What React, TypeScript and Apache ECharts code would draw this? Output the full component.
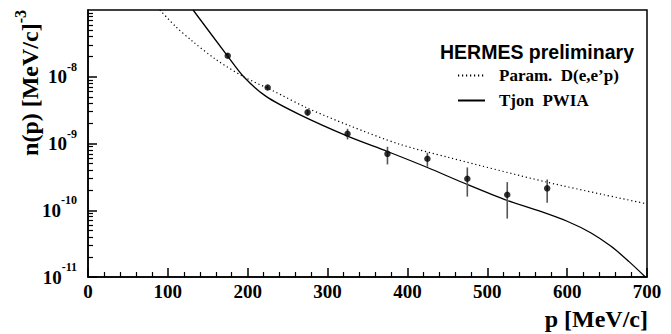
import React, { useEffect, useRef } from 'react';
import * as echarts from 'echarts';

// Measured points (HERMES preliminary)
const pointX = [175, 225, 275, 325, 375, 425, 475, 525, 575];
const pointY = [2.06e-8, 6.9e-9, 2.93e-9, 1.4e-9, 7.0e-10, 5.9e-10, 2.97e-10, 1.71e-10, 2.13e-10];
const errLow = [1.9e-8, 6.4e-9, 2.6e-9, 1.15e-9, 4.86e-10, 4.49e-10, 1.6e-10, 7.5e-11, 1.3e-10];
const errHigh = [2.25e-8, 7.4e-9, 3.2e-9, 1.66e-9, 8.93e-10, 7.26e-10, 4.38e-10, 2.64e-10, 2.9e-10];

// Param. D(e,e'p) curve
const paramX = [90, 110, 130, 160, 195, 230, 273, 327, 390, 452, 575, 698];
const paramY = [1.0e-7, 5.62e-8, 3.47e-8, 1.82e-8, 1.0e-8, 6.31e-9, 3.47e-9, 1.86e-9, 9.77e-10, 6.17e-10, 2.63e-10, 1.26e-10];

// Tjon PWIA curve
const tjonX = [131.6, 174.6, 195, 223, 265, 325, 375, 425, 475, 525, 565, 600, 630, 655, 677.5, 698];
const tjonY = [1.0e-7, 2.06e-8, 1.0e-8, 5.08e-9, 2.71e-9, 1.29e-9, 7.59e-10, 4.37e-10, 2.43e-10, 1.4e-10, 9.77e-11, 6.84e-11, 4.57e-11, 2.88e-11, 1.7e-11, 1.0e-11];

const yMajorTicks = [1e-11, 1e-10, 1e-9, 1e-8];
const yDecades = [-11, -10, -9, -8];
const yMinorMult = [2, 3, 4, 5, 6, 7, 8, 9];

const legendParam = 'Param.  D(e,e\u2019p)';
const legendTjon = 'Tjon  PWIA';

const SERIF = 'Liberation Serif';

export default function App() {
  const ref = useRef<HTMLDivElement>(null);
  useEffect(() => {
    const chart = echarts.init(ref.current!, null, { renderer: 'svg' });
    const yMinor: number[] = [];
    yDecades.forEach((d) => yMinorMult.forEach((k) => yMinor.push(k * Math.pow(10, d))));

    const option: any = {
      animation: false,
      backgroundColor: '#fff',
      grid: {
        left: 88,
        right: 24,
        top: 10,
        bottom: 57,
        show: true,
        borderColor: '#000',
        borderWidth: 1.5,
      },
      title: {
        text: 'HERMES preliminary',
        left: 435,
        top: 37,
        textStyle: { fontFamily: 'Liberation Sans', fontWeight: 'bold', fontSize: 19.5, color: '#000' },
      },
      legend: {
        orient: 'vertical',
        left: 452,
        top: 62,
        itemWidth: 27,
        itemHeight: 14,
        itemGap: 8,
        data: [legendParam, legendTjon],
        itemStyle: { opacity: 0 },
        textStyle: { fontFamily: SERIF, fontWeight: 'bold', fontSize: 17, color: '#000', padding: [0, 0, 0, 9] },
      },
      xAxis: {
        type: 'value',
        min: 0,
        max: 700,
        interval: 100,
        name: 'p [MeV/c]',
        nameLocation: 'end',
        nameGap: 1,
        nameTextStyle: {
          fontFamily: SERIF,
          fontWeight: 'bold',
          fontSize: 24,
          color: '#000',
          align: 'right',
          verticalAlign: 'top',
          padding: [30, 0, 0, 0],
        },
        axisLine: { show: true, lineStyle: { color: '#000', width: 1.5 } },
        axisTick: { show: true, inside: true, length: 9, lineStyle: { color: '#000', width: 1.5 } },
        minorTick: { show: true, splitNumber: 5, length: 5, lineStyle: { color: '#000', width: 1.2 } },
        splitLine: { show: false },
        minorSplitLine: { show: false },
        axisLabel: { fontFamily: SERIF, fontWeight: 'bold', fontSize: 19, color: '#000', margin: 5 },
      },
      yAxis: [
        {
          type: 'log',
          logBase: 10,
          min: 1e-11,
          max: 1e-7,
          name: '{a|n(p) [MeV/c]}{s|-3}',
          nameLocation: 'end',
          nameRotate: 90,
          nameGap: 0,
          nameTextStyle: {
            align: 'right',
            verticalAlign: 'bottom',
            padding: [0, 0, 40, 0],
            rich: {
              a: { fontFamily: SERIF, fontWeight: 'bold', fontSize: 24, lineHeight: 36, color: '#000' },
              s: { fontFamily: SERIF, fontWeight: 'bold', fontSize: 16, lineHeight: 16, verticalAlign: 'top', color: '#000' },
            },
          },
          axisLine: { show: true, lineStyle: { color: '#000', width: 1.5 } },
          axisTick: { show: true, inside: true, length: 9, customValues: yMajorTicks, lineStyle: { color: '#000', width: 1.5 } },
          splitLine: { show: false },
          axisLabel: {
            customValues: yMajorTicks,
            margin: 11,
            formatter: (v: number) => '{b|10}{s|' + Math.round(Math.log10(v)) + '}',
            rich: {
              b: { fontFamily: SERIF, fontWeight: 'bold', fontSize: 19, lineHeight: 32, color: '#000' },
              s: { fontFamily: SERIF, fontWeight: 'bold', fontSize: 12, lineHeight: 12, verticalAlign: 'top', color: '#000' },
            },
          },
        },
        {
          type: 'log',
          logBase: 10,
          min: 1e-11,
          max: 1e-7,
          position: 'left',
          axisLine: { show: false },
          axisLabel: { show: false },
          splitLine: { show: false },
          axisTick: { show: true, inside: true, length: 5, customValues: yMinor, lineStyle: { color: '#000', width: 1.2 } },
        },
      ],
      series: [
        {
          name: legendParam,
          type: 'line',
          data: paramX.map((x, i) => [x, paramY[i]]),
          smooth: 0.3,
          symbol: 'none',
          clip: true,
          lineStyle: { color: '#000', width: 1.2, type: [1.2, 2.8] },
          itemStyle: { color: '#000' },
          z: 2,
        },
        {
          name: legendTjon,
          type: 'line',
          data: tjonX.map((x, i) => [x, tjonY[i]]),
          smooth: 0.3,
          symbol: 'none',
          clip: true,
          lineStyle: { color: '#000', width: 1.3 },
          itemStyle: { color: '#000' },
          z: 2,
        },
        {
          name: 'errors',
          type: 'custom',
          data: pointX.map((x, i) => [x, errLow[i], errHigh[i]]),
          encode: { x: 0, y: [1, 2] },
          renderItem: (params: any, api: any) => {
            const x = api.value(0);
            const p1 = api.coord([x, api.value(1)]);
            const p2 = api.coord([x, api.value(2)]);
            return {
              type: 'line',
              shape: { x1: p1[0], y1: p1[1], x2: p2[0], y2: p2[1] },
              style: { stroke: '#555', lineWidth: 1.6 },
            };
          },
          z: 3,
        },
        {
          name: 'HERMES',
          type: 'scatter',
          data: pointX.map((x, i) => [x, pointY[i]]),
          symbol: 'circle',
          symbolSize: 6.5,
          itemStyle: { color: '#000' },
          z: 4,
        },
      ],
    };
    chart.setOption(option);
    return () => chart.dispose();
  }, []);
  return <div ref={ref} style={{ position: 'fixed', left: 0, top: 0, width: 671, height: 334 }} />;
}
